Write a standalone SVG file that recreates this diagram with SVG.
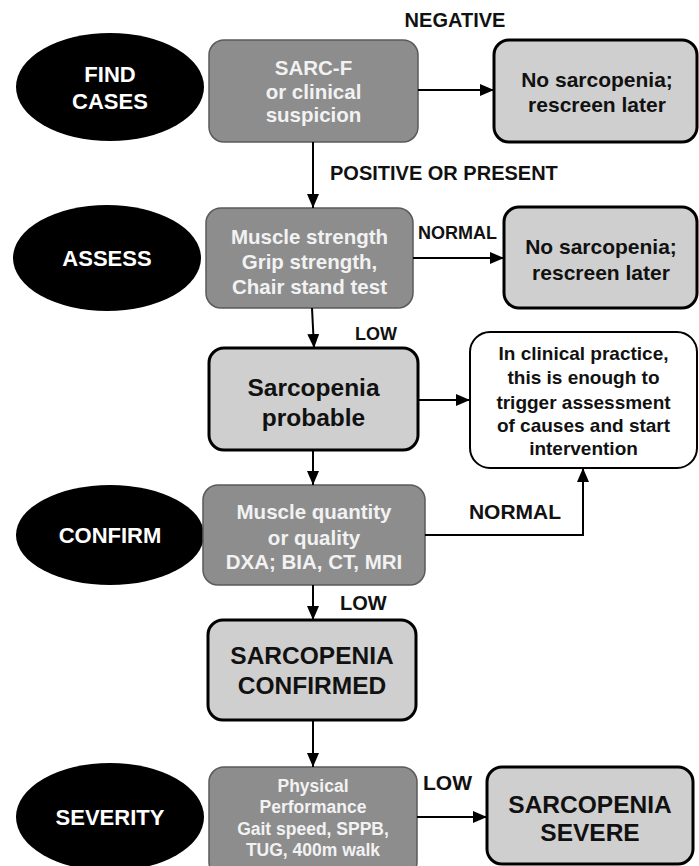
<svg xmlns="http://www.w3.org/2000/svg" width="699" height="866" viewBox="0 0 699 866">
<defs>
<marker id="ah" viewBox="0 0 14 12" refX="14" refY="6" markerWidth="14" markerHeight="12" markerUnits="userSpaceOnUse" orient="auto">
<path d="M0,0 L14,6 L0,12 Z" fill="#000"/>
</marker>
</defs>
<style>
text{font-family:"Liberation Sans",Arial,sans-serif;font-weight:bold;text-anchor:middle}
.ell{fill:#000}
.et{fill:#fff;font-size:22px}
.dk{fill:#8d8d8d;stroke:#5a5a5a;stroke-width:1.5}
.dt{fill:#f2f2f2;font-size:20.5px}
.lt{fill:#cfcfcf;stroke:#000;stroke-width:3}
.bt{fill:#111;font-size:21px}
.big{fill:#111;font-size:24.5px}
.wh{fill:#fff;stroke:#000;stroke-width:2}
.ct{fill:#111;font-size:19px}
.lab{fill:#111;font-size:20px}
.pt{fill:#f2f2f2;font-size:17.5px}
.cn{fill:none;stroke:#000;stroke-width:2;marker-end:url(#ah)}
</style>
<rect width="699" height="866" fill="#fff"/>

<g id="find-cases"><ellipse class="ell" cx="110" cy="87" rx="94" ry="54"/><text class="et" x="110" y="82">FIND</text><text class="et" x="110" y="109">CASES</text></g>
<g id="assess"><ellipse class="ell" cx="107" cy="258" rx="94" ry="53"/><text class="et" x="107" y="266">ASSESS</text></g>
<g id="confirm"><ellipse class="ell" cx="110" cy="535" rx="94" ry="50"/><text class="et" x="110" y="543">CONFIRM</text></g>
<g id="severity"><ellipse class="ell" cx="110" cy="817" rx="94" ry="54"/><text class="et" x="110" y="825">SEVERITY</text></g>

<g id="sarcf"><rect class="dk" x="209" y="40" width="209" height="102" rx="15"/><text class="dt" x="313.5" y="75">SARC-F</text><text class="dt" x="313.5" y="99">or clinical</text><text class="dt" x="313.5" y="122">suspicion</text></g>
<g id="nosarc1"><rect class="lt" x="494" y="40" width="203" height="102" rx="15"/><text class="bt" x="597" y="87">No sarcopenia;</text><text class="bt" x="597" y="112">rescreen later</text></g>

<g id="strength"><rect class="dk" x="206" y="208" width="207" height="100" rx="15"/><text class="dt" x="309.5" y="244">Muscle strength</text><text class="dt" x="309.5" y="269">Grip strength,</text><text class="dt" x="309.5" y="294">Chair stand test</text></g>
<g id="nosarc2"><rect class="lt" x="504" y="207" width="193" height="101" rx="15"/><text class="bt" x="601" y="254">No sarcopenia;</text><text class="bt" x="601" y="280">rescreen later</text></g>

<g id="probable"><rect class="lt" x="209" y="348" width="209" height="102" rx="15"/><text class="big" x="313.5" y="396">Sarcopenia</text><text class="big" x="313.5" y="426">probable</text></g>
<g id="clinical"><rect class="wh" x="470" y="332" width="227" height="136" rx="20"/><text class="ct" x="583.5" y="360">In clinical practice,</text><text class="ct" x="583.5" y="384">this is enough to</text><text class="ct" x="583.5" y="409">trigger assessment</text><text class="ct" x="583.5" y="432">of causes and start</text><text class="ct" x="583.5" y="455">intervention</text></g>

<g id="quantity"><rect class="dk" x="203" y="485" width="222" height="100" rx="15"/><text class="dt" x="314" y="519">Muscle quantity</text><text class="dt" x="314" y="545">or quality</text><text class="dt" x="314" y="569">DXA; BIA, CT, MRI</text></g>

<g id="confirmed"><rect class="lt" x="208" y="620" width="208" height="100" rx="15"/><text class="big" x="312" y="664">SARCOPENIA</text><text class="big" x="312" y="694">CONFIRMED</text></g>

<g id="performance"><rect class="dk" x="209" y="767" width="208" height="110" rx="15"/><text class="pt" x="313" y="792">Physical</text><text class="pt" x="313" y="813">Performance</text><text class="pt" x="313" y="835">Gait speed, SPPB,</text><text class="pt" x="313" y="856">TUG, 400m walk</text></g>
<g id="severe"><rect class="lt" x="487" y="767" width="206" height="97" rx="15"/><text class="big" x="590" y="813">SARCOPENIA</text><text class="big" x="590" y="841">SEVERE</text></g>

<g id="connectors">
<path class="cn" d="M418,90 L494,90"/>
<path class="cn" d="M313,142 L313,208"/>
<path class="cn" d="M413,258 L504,258"/>
<path class="cn" d="M312,308 L314,348"/>
<path class="cn" d="M418,400 L470,400"/>
<path class="cn" d="M313,450 L313,485"/>
<path class="cn" d="M425,535 L583,535 L583,468"/>
<path class="cn" d="M313,585 L313,620"/>
<path class="cn" d="M313,720 L313,767"/>
<path class="cn" d="M417,817 L487,817"/>
</g>

<g id="labels">
<text class="lab" x="455" y="27">NEGATIVE</text>
<text class="lab" x="330" y="180" style="text-anchor:start">POSITIVE OR PRESENT</text>
<text class="lab" x="418" y="239" style="text-anchor:start;font-size:18px">NORMAL</text>
<text class="lab" x="355" y="340" style="text-anchor:start;font-size:18px">LOW</text>
<text class="lab" x="515" y="519" style="font-size:21px">NORMAL</text>
<text class="lab" x="340" y="610" style="text-anchor:start">LOW</text>
<text class="lab" x="423" y="790" style="text-anchor:start;font-size:21px">LOW</text>
</g>
</svg>
